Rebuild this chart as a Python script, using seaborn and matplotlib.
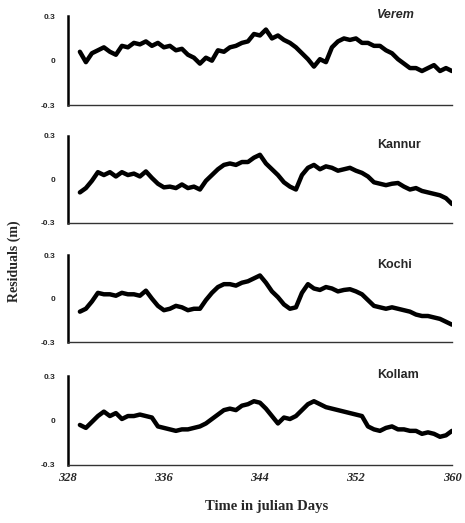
import numpy as np
import pandas as pd
import matplotlib
matplotlib.use("Agg")
import matplotlib.pyplot as plt
import seaborn as sns

# days (julian) at half-day steps
days = [329 + 0.5 * i for i in range(63)]

verem = [0.06, -0.01, 0.05, 0.07, 0.09, 0.06, 0.04, 0.10, 0.09, 0.12,
         0.11, 0.13, 0.10, 0.12, 0.09, 0.10, 0.07, 0.08, 0.04, 0.02,
         -0.02, 0.02, 0.00, 0.07, 0.06, 0.09, 0.10, 0.12, 0.13, 0.18,
         0.17, 0.21, 0.15, 0.17, 0.14, 0.12, 0.09, 0.05, 0.01, -0.04,
         0.01, -0.01, 0.09, 0.13, 0.15, 0.14, 0.15, 0.12, 0.12, 0.10,
         0.10, 0.07, 0.05, 0.01, -0.02, -0.05, -0.05, -0.07, -0.05, -0.03,
         -0.07, -0.05, -0.07]

kannur = [-0.09, -0.06, -0.01, 0.05, 0.03, 0.05, 0.02, 0.05, 0.03, 0.04,
          0.02, 0.055, 0.01, -0.03, -0.055, -0.05, -0.06, -0.035, -0.06, -0.05,
          -0.07, -0.01, 0.03, 0.07, 0.10, 0.11, 0.10, 0.12, 0.12, 0.15,
          0.17, 0.11, 0.07, 0.03, -0.02, -0.05, -0.07, 0.03, 0.08, 0.10,
          0.07, 0.09, 0.08, 0.06, 0.07, 0.08, 0.06, 0.045, 0.02, -0.02,
          -0.03, -0.04, -0.03, -0.025, -0.05, -0.07, -0.06, -0.08, -0.09, -0.10,
          -0.11, -0.13, -0.17]

kochi = [-0.09, -0.07, -0.02, 0.04, 0.03, 0.03, 0.02, 0.04, 0.03, 0.03,
         0.02, 0.055, 0.00, -0.05, -0.08, -0.07, -0.05, -0.06, -0.08, -0.07,
         -0.07, -0.01, 0.04, 0.08, 0.10, 0.10, 0.09, 0.11, 0.12, 0.14,
         0.16, 0.11, 0.05, 0.01, -0.04, -0.07, -0.06, 0.04, 0.10, 0.07,
         0.06, 0.08, 0.07, 0.05, 0.06, 0.065, 0.05, 0.03, -0.01, -0.05,
         -0.06, -0.07, -0.06, -0.07, -0.08, -0.09, -0.11, -0.12, -0.12, -0.13,
         -0.14, -0.16, -0.18]

kollam = [-0.03, -0.05, -0.01, 0.03, 0.06, 0.03, 0.05, 0.01, 0.03, 0.03,
          0.04, 0.03, 0.02, -0.04, -0.05, -0.06, -0.07, -0.06, -0.06, -0.05,
          -0.04, -0.02, 0.01, 0.04, 0.07, 0.08, 0.07, 0.10, 0.11, 0.13,
          0.12, 0.08, 0.03, -0.02, 0.02, 0.01, 0.03, 0.07, 0.11, 0.13,
          0.11, 0.09, 0.08, 0.07, 0.06, 0.05, 0.04, 0.03, -0.04, -0.06,
          -0.07, -0.05, -0.04, -0.06, -0.06, -0.07, -0.07, -0.09, -0.08, -0.09,
          -0.11, -0.10, -0.07]

stations = ["Verem", "Kannur", "Kochi", "Kollam"]
series = [verem, kannur, kochi, kollam]
xticks = [328, 336, 344, 352, 360]
yticks = [-0.3, 0, 0.3]
ytick_labels = ["-0.3", "0", "0.3"]

sns.set_style("white")
plt.rcParams["font.family"] = ["Liberation Sans", "DejaVu Sans"]

fig = plt.figure(figsize=(4.65, 5.23), dpi=100)

# axes boxes [left, bottom, width, height] in figure fractions
boxes = [[0.146, 0.799, 0.826, 0.170],
         [0.146, 0.574, 0.826, 0.166],
         [0.146, 0.346, 0.826, 0.166],
         [0.146, 0.111, 0.826, 0.170]]
label_y = [1.01, 0.90, 0.885, 1.01]

for i, (name, vals) in enumerate(zip(stations, series)):
    ax = fig.add_axes(boxes[i])
    df = pd.DataFrame({"day": days, "res": vals})
    sns.lineplot(data=df, x="day", y="res", ax=ax, color="black", linewidth=3.2)
    ax.set_xlim(328, 360)
    ax.set_ylim(-0.3, 0.3)
    ax.set_yticks(yticks)
    ax.set_yticklabels(ytick_labels, fontsize=6, fontweight="bold")
    ax.set_xticks(xticks)
    if i == 3:
        ax.set_xticklabels([str(t) for t in xticks], fontsize=9, fontweight="bold",
                           style="italic", family="Liberation Serif")
    else:
        ax.set_xticklabels([])
    ax.tick_params(axis="y", direction="out", length=3, width=1, pad=6)
    ax.tick_params(axis="x", direction="in", length=3, width=1, pad=5)
    ax.set_xlabel("")
    ax.set_ylabel("")
    for s in ["top", "right"]:
        ax.spines[s].set_visible(False)
    ax.spines["left"].set_linewidth(1.8)
    ax.spines["left"].set_color("black")
    ax.spines["bottom"].set_linewidth(1.0)
    ax.spines["bottom"].set_color("#333333")
    ax.text(0.805, label_y[i], name, transform=ax.transAxes, ha="left", va="center",
            fontsize=9, fontweight="bold", style="italic" if i == 0 else "normal")

fig.text(0.03, 0.50, "Residuals (m)", rotation=90, ha="center", va="center",
         fontsize=10, fontweight="bold", family="Liberation Serif")
fig.text(0.574, 0.031, "Time in julian Days", ha="center", va="center",
         fontsize=10.5, fontweight="bold", family="Liberation Serif")

plt.savefig("out.png", dpi=100)
